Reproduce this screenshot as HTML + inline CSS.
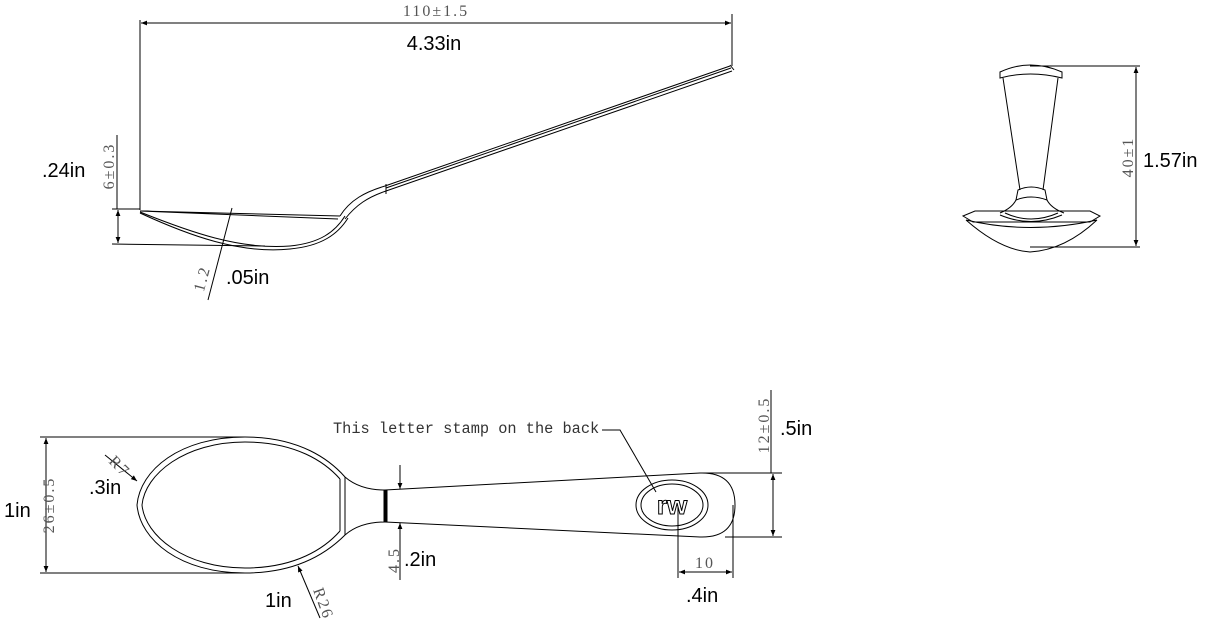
<!DOCTYPE html>
<html><head><meta charset="utf-8"><style>
html,body{margin:0;padding:0;background:#fff;}
svg{display:block;}
.s{font-family:"Liberation Serif",serif;fill:#555;font-size:16px;letter-spacing:2px;}
.b{font-family:"Liberation Sans",sans-serif;fill:#000;font-size:20px;}
.m{font-family:"Liberation Mono",monospace;fill:#333;font-size:15.3px;}
</style></head><body>
<svg width="1213" height="623" viewBox="0 0 1213 623" xmlns="http://www.w3.org/2000/svg">
<defs><marker id="a" viewBox="0 0 10 10" refX="10" refY="5" markerWidth="9" markerHeight="6" orient="auto-start-reverse"><path d="M0,1 L10,5 L0,9 z" fill="#000"/></marker></defs>
<g stroke="#000" fill="none" stroke-width="1">
<line x1="140" y1="20" x2="140" y2="210"/>
<line x1="732" y1="14" x2="732" y2="66"/>
<line x1="141" y1="23" x2="731" y2="23" marker-start="url(#a)" marker-end="url(#a)"/>
<path d="M140,211 L340,216 M140,211 L338,219"/>
<path d="M140,212 C190,232 240,250 290,246 C320,243 335,232 345,216"/>
<path d="M140,213 C190,236 240,254 290,249 C322,246 338,234 348,218"/>
<path d="M340,216 C350,200 365,192 385,186 L730,66 M345,219 C356,205 368,197 386,191 L732,71 M386,188 L731,68"/>
<path d="M386,184 L386,194 M730,65 L734,70"/>
<line x1="112" y1="209" x2="140" y2="209"/>
<line x1="112" y1="244" x2="265" y2="246"/>
<line x1="118" y1="210" x2="118" y2="243" marker-start="url(#a)" marker-end="url(#a)"/>
<line x1="117" y1="135" x2="117" y2="209"/>
<line x1="232" y1="208" x2="208" y2="300"/>
<line x1="1030" y1="66" x2="1140" y2="66"/>
<line x1="1030" y1="247" x2="1140" y2="247"/>
<line x1="1136" y1="67" x2="1136" y2="246" marker-start="url(#a)" marker-end="url(#a)"/>
<path d="M1000,72 Q1030,58 1062,72 L1062,78 Q1030,70 1000,78 Z"/>
<path d="M1003,78 L1020,190 M1058,78 L1043,190"/>
<path d="M1018,190 Q1031,184 1045,190 L1047,200 Q1031,194 1016,200 Z"/>
<path d="M1016,200 Q1012,208 1000,213 M1047,200 Q1051,208 1064,213"/>
<path d="M963,216 L975,211 L1090,211 L1100,216 L1090,222 L973,222 Z"/>
<path d="M966,220 Q1030,235 1097,220 M966,220 Q1000,250 1030,252 Q1065,250 1097,220"/>
<path d="M1005,213 Q1031,225 1058,213 M1000,215 Q1031,228 1062,215"/>
<line x1="40" y1="437" x2="245" y2="437"/>
<line x1="40" y1="573" x2="245" y2="573"/>
<line x1="46" y1="438" x2="46" y2="572" marker-start="url(#a)" marker-end="url(#a)"/>
<path d="M137,505 C140,470 180,437 245,437 C300,437 330,460 345,477 Q360,490 385,490 L385,522 Q360,522 345,535 C330,550 300,573 245,573 C180,573 140,540 137,505 Z"/>
<path d="M142,505 C145,474 185,442 245,442 C296,442 325,462 340,479 M142,505 C145,536 185,568 245,568 C296,568 325,548 340,531"/>
<path d="M340,479 L340,531 M345,477 L345,535"/>
<path d="M385,490 L700,473 Q735,472 735,505 Q735,538 700,537 L385,522"/>
<rect x="384" y="490" width="3" height="32" fill="#000"/>
<ellipse cx="672" cy="505" rx="36" ry="25"/>
<ellipse cx="672" cy="505" rx="31" ry="21"/>
<line x1="105" y1="455" x2="137" y2="481" marker-end="url(#a)"/>
<line x1="320" y1="618" x2="298" y2="566" marker-end="url(#a)"/>
<line x1="400" y1="465" x2="400" y2="489" marker-end="url(#a)"/>
<line x1="400" y1="580" x2="400" y2="523" marker-end="url(#a)"/>
<line x1="700" y1="473" x2="782" y2="473"/>
<line x1="725" y1="537" x2="782" y2="537"/>
<line x1="773" y1="474" x2="773" y2="536" marker-start="url(#a)" marker-end="url(#a)"/>
<line x1="771" y1="390" x2="771" y2="473"/>
<line x1="678" y1="505" x2="678" y2="578"/>
<line x1="733" y1="505" x2="733" y2="578"/>
<line x1="679" y1="572" x2="732" y2="572" marker-start="url(#a)" marker-end="url(#a)"/>
<path d="M602,430 L620,430 L656,492"/>
</g>
<text x="436" y="16" class="s" text-anchor="middle">110±1.5</text>
<text x="434" y="50" class="b" text-anchor="middle">4.33in</text>
<text x="42" y="177" class="b">.24in</text>
<text transform="translate(114,166) rotate(-90)" class="s" text-anchor="middle">6±0.3</text>
<text transform="translate(207,280) rotate(-75)" class="s" text-anchor="middle">1.2</text>
<text x="226" y="284" class="b">.05in</text>
<text transform="translate(1133,157) rotate(-90)" class="s" text-anchor="middle">40±1</text>
<text x="1143" y="167" class="b">1.57in</text>
<text x="333" y="433" class="m">This letter stamp on the back</text>
<text x="4" y="517" class="b">1in</text>
<text transform="translate(54,505) rotate(-90)" class="s" text-anchor="middle">26±0.5</text>
<text transform="translate(108,462) rotate(45)" class="s">R7</text>
<text x="89" y="494" class="b">.3in</text>
<text transform="translate(313,590) rotate(70)" class="s">R26</text>
<text x="265" y="607" class="b">1in</text>
<text transform="translate(399,560) rotate(-90)" class="s" text-anchor="middle">4.5</text>
<text x="404" y="566" class="b">.2in</text>
<text transform="translate(769,425) rotate(-90)" class="s" text-anchor="middle">12±0.5</text>
<text x="780" y="435" class="b">.5in</text>
<text x="705" y="568" class="s" text-anchor="middle">10</text>
<text x="686" y="602" class="b">.4in</text>
<text x="672" y="514" font-family="Liberation Sans,sans-serif" font-size="26" font-weight="bold" fill="#fff" stroke="#000" stroke-width="1" text-anchor="middle">rw</text>
</svg>
</body></html>
